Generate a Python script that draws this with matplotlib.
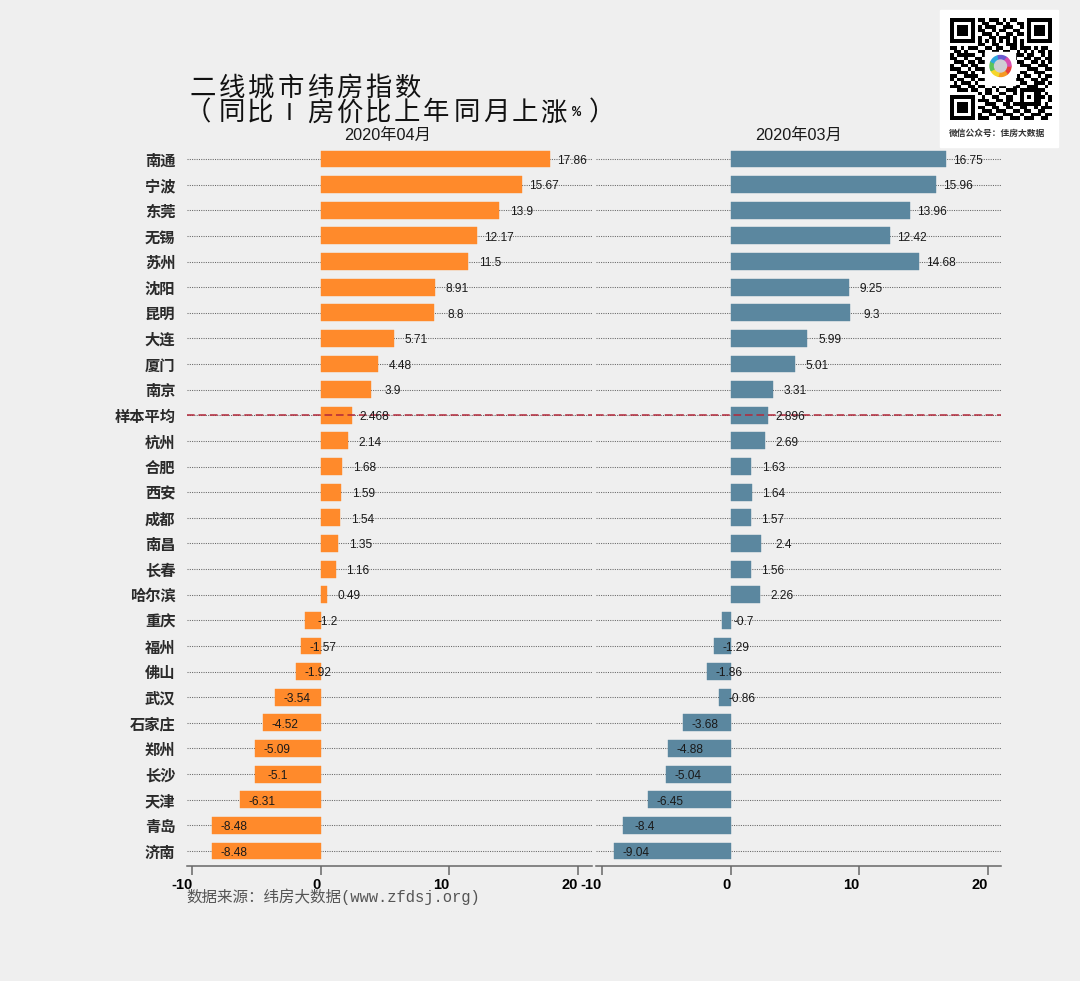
import matplotlib
matplotlib.use("Agg")
import matplotlib.pyplot as plt
from matplotlib.patches import Rectangle, Wedge, Circle
import numpy as np

cities = ["南通","宁波","东莞","无锡","苏州","沈阳","昆明","大连","厦门","南京","样本平均","杭州","合肥","西安",
          "成都","南昌","长春","哈尔滨","重庆","福州","佛山","武汉","石家庄","郑州","长沙","天津","青岛","济南"]
apr = [17.86,15.67,13.9,12.17,11.5,8.91,8.8,5.71,4.48,3.9,2.468,2.14,1.68,1.59,
       1.54,1.35,1.16,0.49,-1.2,-1.57,-1.92,-3.54,-4.52,-5.09,-5.1,-6.31,-8.48,-8.48]
mar = [16.75,15.96,13.96,12.42,14.68,9.25,9.3,5.99,5.01,3.31,2.896,2.69,1.63,1.64,
       1.57,2.4,1.56,2.26,-0.7,-1.29,-1.86,-0.86,-3.68,-4.88,-5.04,-6.45,-8.4,-9.04]
xticks = [-10, 0, 10, 20]
title1 = "二线城市纬房指数"
title2 = "（同比|房价比上年同月上涨%）"
panel_titles = ["2020年04月", "2020年03月"]
source = "数据来源：纬房大数据(www.zfdsj.org)"
qr_caption = "微信公众号：佳房大数据"
qr_rows = [
"11111110110111010110001111111",
"10000010011001101001101000001",
"10111010101110011100101011101",
"10111010110010110011001011101",
"10111010011101001101101011101",
"10000010100110111010001000001",
"11111110101010101010101111111",
"00000000110011001110100000000",
"11010111001101100110111010110",
"01101000110011011001010101101",
"10111110011100110011101100101",
"11001001100100001110011011011",
"01110110111000000001100110101",
"10011011001000000000111001110",
"11100101110000000000001110011",
"00111010010000000000110011100",
"11001111001000000001011001011",
"10110010110100000011100110110",
"01011101001111011100110011101",
"11100110110010110011001110010",
"00111011001101001110111111100",
"00000000101100110010100011010",
"11111110010011001100101011101",
"10000010111001101100100011001",
"10111010001110011011111111010",
"10111010110011001100110010111",
"10111010011101110011011001100",
"10000010100110011100100111011",
"11111110111001100111011100110",
]

plt.rcParams["font.family"] = ["Liberation Sans", "Noto Sans CJK SC"]
W, H = 1080, 981
BG = "#EFEFEF"
fig = plt.figure(figsize=(W/100, H/100), dpi=100, facecolor=BG)

def make_axes(x0, x1, y0, y1):
    return fig.add_axes([x0/W, 1-y1/H, (x1-x0)/W, (y1-y0)/H], facecolor="none")

y = np.arange(len(cities))
panels = [(187, 592, 320.7, apr, "#FF8A2B"), (596, 1001, 730.5, mar, "#5B879F")]
PX = 12.85
for i, (x0, x1, zero, vals, col) in enumerate(panels):
    ax = make_axes(x0, x1, 146, 866)
    ax.set_xlim((x0-zero)/PX, (x1-zero)/PX)
    ax.set_ylim(27.585, -0.507)
    ax.set_yticks(y)
    ax.yaxis.grid(True, color="#666666", linestyle=(0, (1, 1.2)), linewidth=0.75, zorder=0)
    ax.xaxis.grid(False)
    ax.set_axisbelow(True)
    ax.barh(y, vals, height=0.66, color=col, edgecolor=col, linewidth=0.3, zorder=2)
    for yy, v in zip(y, vals):
        ax.text(v+1.72, yy+0.07, f"{v:g}", ha="center", va="center", fontsize=8.6, color="#1a1a1a", zorder=4)
    ax.axhline(cities.index("样本平均"), color="#B2283A", linestyle=(0, (5, 2.5)), linewidth=1.1, zorder=3)
    for s in ["top", "left", "right"]:
        ax.spines[s].set_visible(False)
    ax.spines["bottom"].set_color("#666666")
    ax.spines["bottom"].set_linewidth(1.1)
    ax.set_xticks(xticks)
    ax.set_xticklabels([str(t) for t in xticks], ha="right", fontsize=10.5, fontweight="bold", color="black")
    ax.tick_params(axis="x", length=6.5, width=1.1, color="#666666", pad=2.2)
    ax.tick_params(axis="y", length=0, labelleft=False)
    if i == 0:
        ax.tick_params(axis="y", labelleft=True, pad=8.4)
        ax.set_yticklabels(cities, fontsize=11, fontweight="bold", color="#2a2a2a",
                           fontfamily="Noto Sans CJK SC")

# overlay in pixel coordinates: titles, source, QR card
ov = fig.add_axes([0, 0, 1, 1], facecolor="none")
ov.set_xlim(0, W); ov.set_ylim(H, 0); ov.axis("off")
CJK = "Noto Sans CJK SC"
TS = 19
for k, ch in enumerate(title1):
    ov.text(202.6 + 29.3*k, 88, ch, fontsize=TS, family=CJK, ha="center", va="center", color="#111111")
t2x = [198, 232, 260, 289, 320, 349, 378, 407, 436, 467, 496, 525, 553, 577, 602]
for xx, ch in zip(t2x, title2):
    if ch == "%":
        ov.text(xx, 112, ch, fontsize=11, family="Liberation Mono", fontweight="bold", ha="center", va="center", color="#111111")
    elif ch == "|":
        ov.text(xx, 111, ch, fontsize=13, fontweight="bold", ha="center", va="center", color="#111111")
    else:
        ov.text(xx, 113, ch, fontsize=TS, family=CJK, ha="center", va="center", color="#111111")
ov.text(388, 135, panel_titles[0], fontsize=11.7, ha="center", va="center", color="#1a1a1a")
ov.text(798, 135, panel_titles[1], fontsize=11.7, ha="center", va="center", color="#1a1a1a")
ov.text(186.5, 897, source, fontsize=11.2, family=["Liberation Mono", CJK], ha="left", va="center", color="#555555")

ov.add_patch(Rectangle((940, 10), 118, 137, color="white", zorder=1))
matrix = np.array([[int(c) for c in r] for r in qr_rows])
ov.imshow(1-matrix, cmap="gray", vmin=0, vmax=1, extent=(949.5, 1051.5, 120.5, 18.5), interpolation="nearest", zorder=2, aspect="auto")
ov.set_xlim(0, W); ov.set_ylim(H, 0)
ov.add_patch(Rectangle((985, 52), 30, 33, color="white", zorder=3))
ring = ["#E8403A", "#F59A23", "#F6D62B", "#5CC45A", "#2FA8DE", "#6A5BD0", "#D94FB0"]
ang = 0
for c in ring:
    ov.add_patch(Wedge((1000.5, 66), 10.5, ang, ang+360/len(ring), width=4.5, color=c, zorder=4))
    ang += 360/len(ring)
ov.add_patch(Circle((1000.5, 66), 6, color="#CFCFD4", zorder=4))
ov.text(997, 133, qr_caption, fontsize=6.3, family=CJK, fontweight="bold", ha="center", va="center", color="#333333", zorder=3)

fig.savefig("out.png", dpi=100, facecolor=BG)
